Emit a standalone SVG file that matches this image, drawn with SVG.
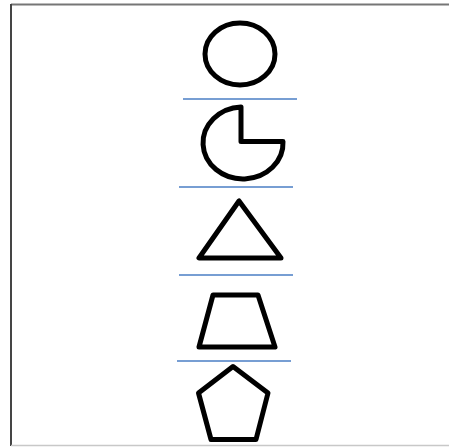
<svg xmlns="http://www.w3.org/2000/svg" width="449" height="447" viewBox="0 0 449 447">
  <style>
    .shape { fill: #ffffff; stroke: #000000; stroke-width: 5; stroke-linejoin: round; }
    .sep { stroke: #4a7ec4; stroke-width: 1.6; }
  </style>
  <rect x="0" y="0" width="449" height="447" fill="#ffffff"/>
  <g id="frame">
    <line x1="11" y1="4.5" x2="449" y2="4.5" stroke="#767676" stroke-width="2"/>
    <line x1="11" y1="4" x2="11" y2="446" stroke="#454545" stroke-width="2"/>
    <line x1="11" y1="445.5" x2="449" y2="445.5" stroke="#c8c8c8" stroke-width="1.5"/>
  </g>
  <g id="circle"><ellipse class="shape" cx="240" cy="54" rx="35" ry="31"/></g>
  <g id="pie"><path class="shape" d="M241,107 A40,36 0 1 0 283,141.5 L241,141.5 Z"/></g>
  <g id="triangle"><polygon class="shape" points="239,201 199,258 281,258"/></g>
  <g id="trapezoid"><polygon class="shape" points="213,295 258,295 275,347 199,347"/></g>
  <g id="pentagon"><polygon class="shape" points="233,366.5 268,393 256,439.5 211,439.5 198.5,393"/></g>
  <g id="separators">
    <line class="sep" x1="183" y1="99" x2="297" y2="99"/>
    <line class="sep" x1="179" y1="187" x2="293" y2="187"/>
    <line class="sep" x1="179" y1="275" x2="293" y2="275"/>
    <line class="sep" x1="177" y1="361" x2="291" y2="361"/>
  </g>
</svg>
